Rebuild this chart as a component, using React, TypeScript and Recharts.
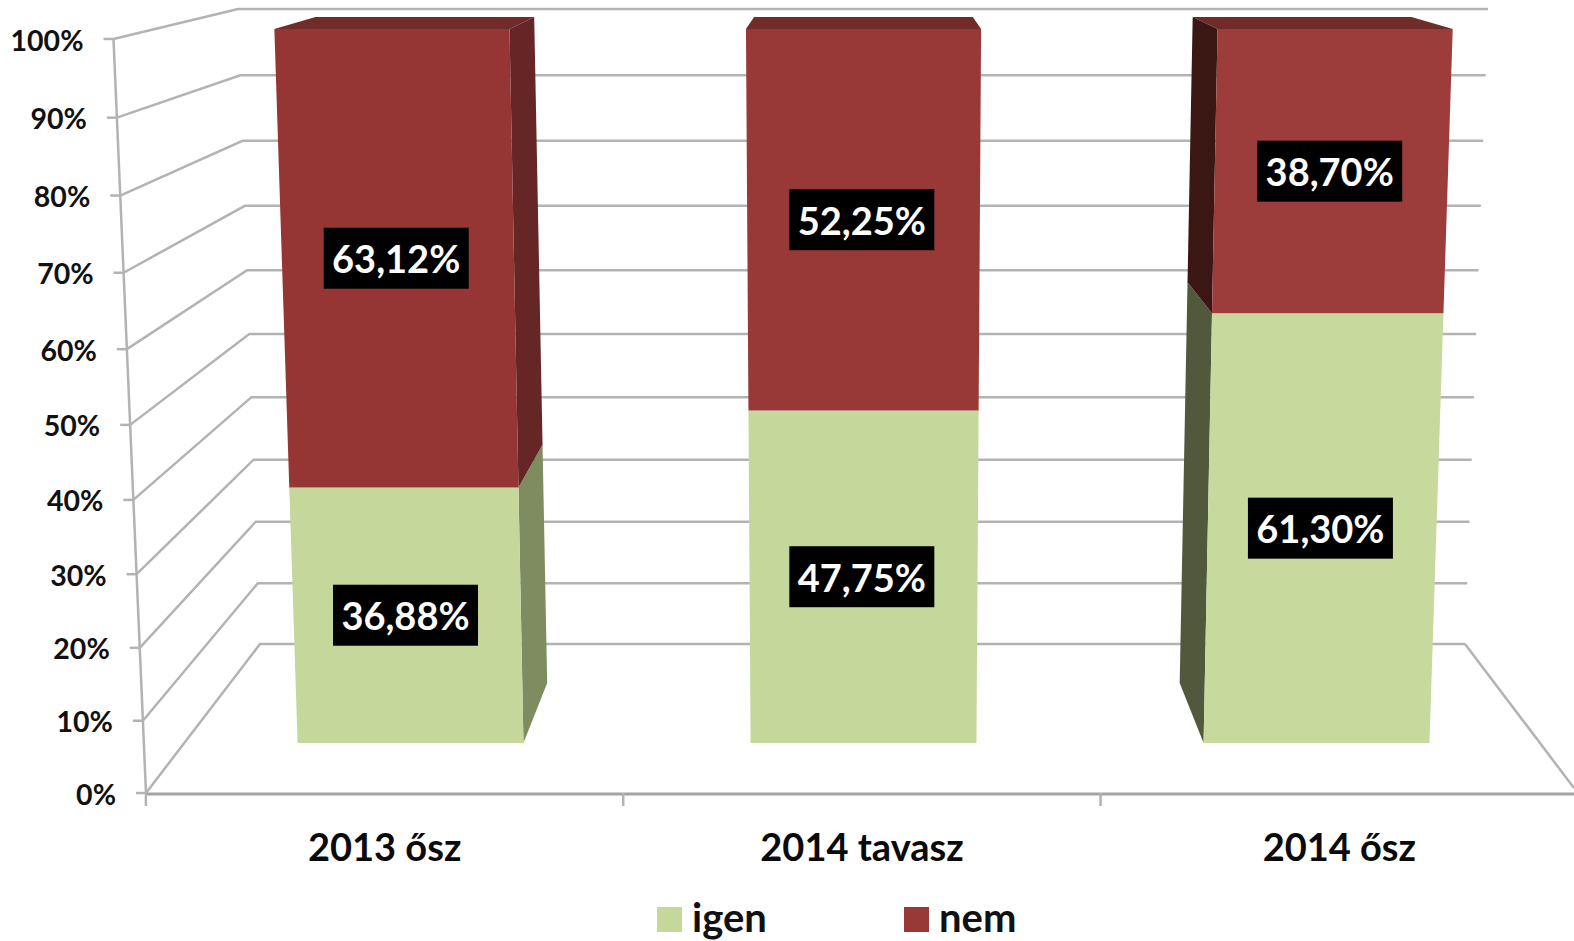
/**
 * Stacked 3D-look percentage bars (igen / nem), drawn on a flat Recharts BarChart.
 * The perspective is done in the shapes: library y -> warped plane position.
 */
import { BarChart, Bar, XAxis, YAxis, Legend, LabelList, CartesianGrid } from 'recharts';

const categories = ['2013 ősz', '2014 tavasz', '2014 ősz'];
const igen = [36.88, 47.75, 61.3];
const nem = [63.12, 52.25, 38.7];
const yTicks = [0, 10, 20, 30, 40, 50, 60, 70, 80, 90, 100];

const chartData = categories.map((name, i) => ({ name, igen: igen[i], nem: nem[i] }));

const W = 1574;
const H = 941;
const FONT = 'Lato, "Open Sans", sans-serif';
const GRID = '#b3b3b3';
const BAND = 477.5;
const CX = 862.25;

// bar front plane, in pixels
const BAR_BOTTOM = 743;
const BAR_TOP = 29;
const BAR_H = BAR_BOTTOM - BAR_TOP;
const XAXIS_H = 30;
const LEGEND_H = 34;

// projective warp of the value axis (fraction -> fraction)
const warp = (v: number) => (0.954 * v) / (1 - 0.046 * v);
const lerp = (a: number, b: number, t: number) => a + (b - a) * t;

const warpY = (y: number) => BAR_BOTTOM - BAR_H * warp((BAR_BOTTOM - y) / BAR_H);
const frontPt = (x: number, wy: number) => {
  const s = lerp(0.949, 0.988, (BAR_BOTTOM - wy) / BAR_H);
  return [CX + 1.2 + (x - CX) * s, wy];
};
const backPt = (p: number[]) => [p[0] + (CX - p[0]) * 0.07, 17 + (p[1] - BAR_TOP) * (666 / 714)];
const poly = (pts: number[][]) => pts.map((p) => p.join(',')).join(' ');

const sideColors: Record<string, string[]> = {
  igen: ['#7f8c60', '#52583c'],
  nem: ['#652625', '#3b1713'],
};
const frontColors: Record<string, string[]> = {
  igen: ['#c5d79b', '#c5d89c', '#c7d99d'],
  nem: ['#953634', '#983938', '#9c3d3c'],
};

function Bar3D(props: any) {
  const { x, y, width, height, fill, dataKey, index } = props;
  const yt = warpY(y);
  const yb = warpY(y + height);
  const tl = frontPt(x, yt);
  const tr = frontPt(x + width, yt);
  const bl = frontPt(x, yb);
  const br = frontPt(x + width, yb);
  const side = sideColors[dataKey] || sideColors.igen;
  const face = frontColors[dataKey]?.[index] || fill;
  return (
    <g>
      {dataKey === 'nem' && <polygon points={poly([tl, tr, backPt(tr), backPt(tl)])} fill="#712b28" />}
      {br[0] < CX - 100 && <polygon points={poly([tr, br, backPt(br), backPt(tr)])} fill={side[0]} />}
      {bl[0] > CX + 100 && <polygon points={poly([tl, bl, backPt(bl), backPt(tl)])} fill={side[1]} />}
      <polygon points={poly([tl, tr, br, bl])} fill={face} />
    </g>
  );
}

function ValueLabel(props: any) {
  const { x, y, width, height, value } = props;
  const my = (warpY(y) + warpY(y + height)) / 2;
  const c = frontPt(x + width / 2, my);
  const cx = c[0] - 1.7;
  return (
    <g>
      <rect x={cx - 72.5} y={c[1] - 30.5} width={145} height={61} fill="#000" />
      <text
        x={cx}
        y={c[1] + 15}
        textAnchor="middle"
        fill="#fff"
        fontFamily={FONT}
        fontWeight={700}
        fontSize={38}
      >
        {Number(value).toFixed(2).replace('.', ',')}%
      </text>
    </g>
  );
}

// one grid line = its run along the side wall and along the back wall
function WallLine(props: any) {
  const w = warp((BAR_BOTTOM - props.y1) / BAR_H);
  const fx = lerp(146, 113.5, w);
  const fy = lerp(793, 39, w);
  const bx = lerp(260, 238, w);
  const by = lerp(644, 9, w);
  const rx = lerp(1465, 1488, w);
  return (
    <g>
      <polyline points={poly([[fx, fy], [bx, by], [rx, by]])} fill="none" stroke={GRID} strokeWidth={2.5} />
      {w === 0 && <line x1={rx} y1={by} x2={1574} y2={788} stroke={GRID} strokeWidth={2.5} />}
    </g>
  );
}

function WallTick(props: any) {
  const { y, payload } = props;
  const w = warp((BAR_BOTTOM - y) / BAR_H);
  const fx = lerp(146, 113.5, w);
  const fy = lerp(793, 39, w);
  return (
    <g>
      <line x1={fx - 10} y1={fy} x2={fx} y2={fy} stroke={GRID} strokeWidth={2.5} />
      {payload.value === 0 && <line x1={146} y1={793} x2={113.5} y2={39} stroke={GRID} strokeWidth={2.5} />}
      <text
        x={fx - 30}
        y={fy + 11.5}
        textAnchor="end"
        fill="#111"
        fontFamily={FONT}
        fontWeight={700}
        fontSize={28.5}
      >
        {payload.value}%
      </text>
    </g>
  );
}

function CategoryTick(props: any) {
  const { x, payload } = props;
  return (
    <g>
      <line x1={x - BAND / 2} y1={794} x2={x + BAND / 2} y2={794} stroke="#a3a3a3" strokeWidth={3} />
      <line x1={x - BAND / 2} y1={793} x2={x - BAND / 2} y2={806} stroke={GRID} strokeWidth={2.5} />
      <text x={x} y={861} textAnchor="middle" fill="#0a0a0a" fontFamily={FONT} fontWeight={700} fontSize={38}>
        {payload.value}
      </text>
    </g>
  );
}

function LegendRow({ payload }: any) {
  const left = [657, 904];
  return (
    <div style={{ position: 'relative', height: LEGEND_H }}>
      {(payload || []).map((it: any, i: number) => (
        <div key={it.value} style={{ position: 'absolute', left: left[i], top: 0, display: 'flex', alignItems: 'center' }}>
          <span style={{ width: 25, height: 25, background: it.color, display: 'inline-block' }} />
          <span style={{ position: 'relative', top: -2, marginLeft: 10, fontFamily: FONT, fontWeight: 700, fontSize: 40, lineHeight: '25px', color: '#111' }}>
            {it.value}
          </span>
        </div>
      ))}
    </div>
  );
}

export default function App() {
  return (
    <div style={{ position: 'absolute', left: 0, top: 0, width: W, height: H, overflow: 'hidden', background: '#fff' }}>
      <BarChart
        width={1578}
        height={H}
        data={chartData}
        barSize={238}
        margin={{ top: BAR_TOP, right: 0, bottom: H - BAR_BOTTOM - XAXIS_H - LEGEND_H, left: 145 }}
      >
        <CartesianGrid vertical={false} horizontal={<WallLine />} syncWithTicks />
        <XAxis dataKey="name" height={XAXIS_H} axisLine={false} tickLine={false} tick={<CategoryTick />} interval={0} />
        <YAxis
          width={1}
          domain={[0, 100]}
          ticks={yTicks}
          interval={0}
          axisLine={false}
          tickLine={false}
          tick={<WallTick />}
        />
        <Legend
          height={LEGEND_H}
          wrapperStyle={{ left: 0, top: 907, bottom: 'auto', width: W }}
          content={<LegendRow />}
        />
        <Bar dataKey="igen" stackId="a" fill="#c5d79b" shape={<Bar3D />} isAnimationActive={false}>
          <LabelList dataKey="igen" content={<ValueLabel />} />
        </Bar>
        <Bar dataKey="nem" stackId="a" fill="#983938" shape={<Bar3D />} isAnimationActive={false}>
          <LabelList dataKey="nem" content={<ValueLabel />} />
        </Bar>
      </BarChart>
    </div>
  );
}
